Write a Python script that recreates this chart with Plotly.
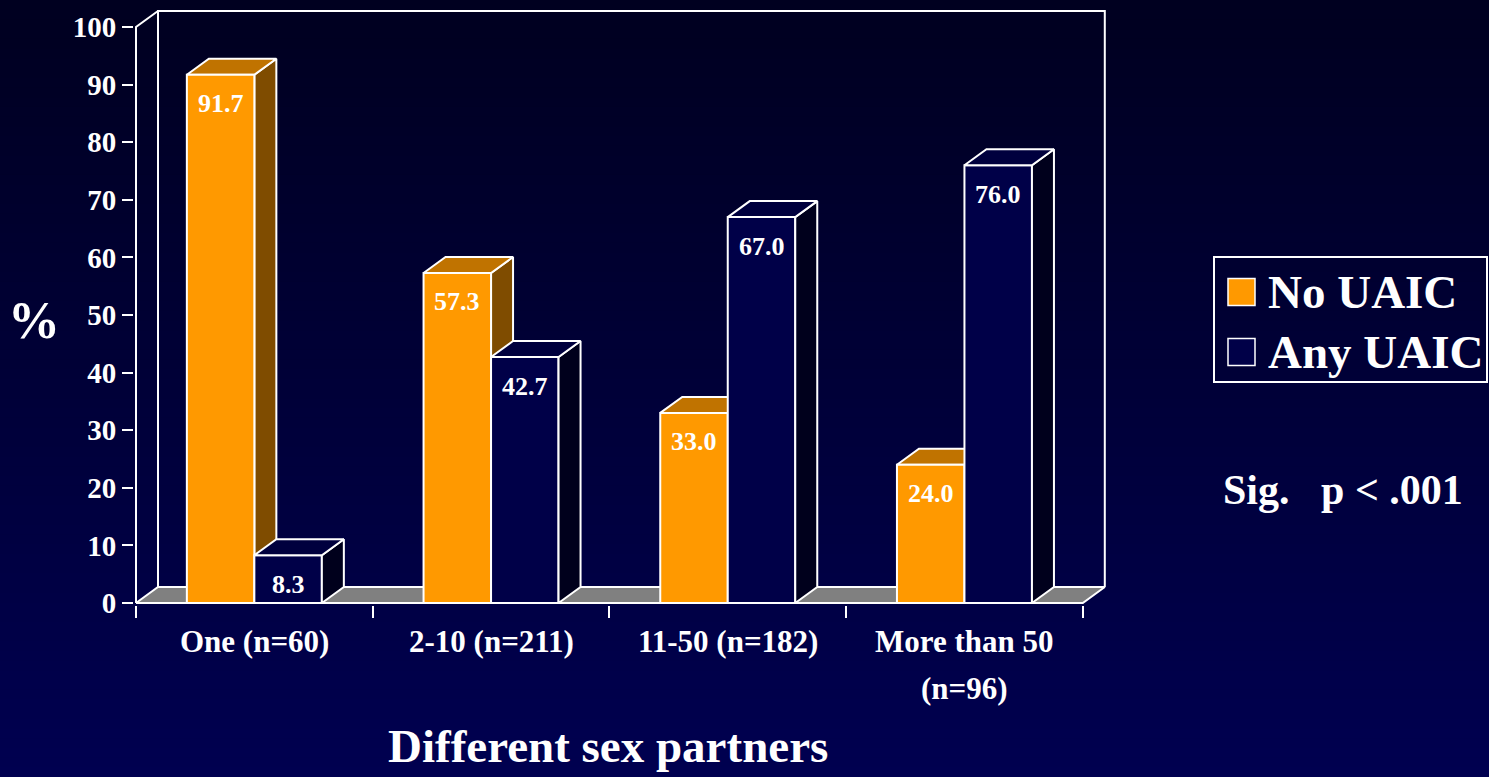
import plotly.graph_objects as go

# ---------------- data ----------------
categories = ["One (n=60)", "2-10 (n=211)", "11-50 (n=182)", "More than 50<br>(n=96)"]
series_names = ["No UAIC", "Any UAIC"]
no_uaic = [91.7, 57.3, 33.0, 24.0]
any_uaic = [8.3, 42.7, 67.0, 76.0]
y_ticks = [0, 10, 20, 30, 40, 50, 60, 70, 80, 90, 100]
x_title = "Different sex partners"
y_title = "%"
note_text = "Sig.\u00a0\u00a0\u00a0p < .001"

# ---------------- style / geometry ----------------
W, H = 1489, 777
FONT = "Liberation Serif"
ORANGE = "#FF9900"
ORANGE_TOP = "#C07300"
ORANGE_SIDE = "#7F4C00"
NAVY = "#000048"
NAVY_TOP = "#00003E"
NAVY_SIDE = "#00001C"
FLOOR = "#808080"

X0_PX, UX = 136.0, 236.7     # pixel of x=-0.5, pixels per category
Y0_PX, UY = 603.0, 5.76      # pixel of y=0, pixels per percent
DX, DY = 22.0 / UX, 16.0 / UY  # 3-D depth in data units
BAR_W = 67.5 / UX

PL, PR, PT, PB = 134, 1108, 8, 605
xr = [(PL - X0_PX) / UX - 0.5, (PR - X0_PX) / UX - 0.5]
yr = [(Y0_PX - PB) / UY, (Y0_PX - PT) / UY]


def pxx(px):
    return (px - PL) / (PR - PL)


def pxy(py):
    return (PB - py) / (PB - PT)


xs = list(range(len(categories)))
x_left, x_right = -0.5, len(categories) - 0.5
y_top = max(y_ticks)

fig = go.Figure()

# ---------- background gradient ----------
shapes = []
n_bands = 80
for i in range(n_bands):
    t = i / (n_bands - 1)
    b = int(round(32 + (80 - 32) * t))
    shapes.append(dict(type="rect", xref="paper", yref="paper", layer="below",
                       x0=pxx(0), x1=pxx(W),
                       y0=pxy(H * i / n_bands), y1=pxy(H * (i + 1) / n_bands + 1),
                       fillcolor=f"rgb(0,0,{b})", line=dict(width=0)))

# ---------- floor ----------
fig.add_trace(go.Scatter(
    x=[x_left, x_right, x_right + DX, x_left + DX, x_left],
    y=[0, 0, DY, DY, 0],
    fill="toself", fillcolor=FLOOR, mode="lines",
    line=dict(color="white", width=2), hoverinfo="skip", showlegend=False))

# ---------- back wall ----------
fig.add_trace(go.Scatter(
    x=[x_left + DX, x_left + DX, x_right + DX, x_right + DX],
    y=[DY, y_top + DY, y_top + DY, DY],
    mode="lines", line=dict(color="white", width=2), hoverinfo="skip", showlegend=False))

# ---------- front y axis line ----------
fig.add_trace(go.Scatter(
    x=[x_left, x_left, x_left + DX],
    y=[0, y_top, y_top + DY],
    mode="lines", line=dict(color="white", width=2), hoverinfo="skip", showlegend=False))


def faces(values, offset):
    sx, sy, tx, ty = [], [], [], []
    for x, v in zip(xs, values):
        a = x + offset
        b = a + BAR_W
        sx += [b, b + DX, b + DX, b, b, None]
        sy += [0, DY, v + DY, v, 0, None]
        tx += [a, b, b + DX, a + DX, a, None]
        ty += [v, v, v + DY, v + DY, v, None]
    return sx, sy, tx, ty


# orange side + top (behind the navy fronts)
sx, sy, tx, ty = faces(no_uaic, -BAR_W)
fig.add_trace(go.Scatter(x=sx, y=sy, fill="toself", fillcolor=ORANGE_SIDE, mode="lines",
                         line=dict(color="white", width=2), hoverinfo="skip", showlegend=False))
fig.add_trace(go.Scatter(x=tx, y=ty, fill="toself", fillcolor=ORANGE_TOP, mode="lines",
                         line=dict(color="white", width=2), hoverinfo="skip", showlegend=False))

# front faces (bars) on the overlaid subplot
fig.add_trace(go.Bar(x=xs, y=no_uaic, width=BAR_W, offset=-BAR_W, name=series_names[0],
                     marker=dict(color=ORANGE, line=dict(color="white", width=2)),
                     xaxis="x2", yaxis="y2", showlegend=False))
fig.add_trace(go.Bar(x=xs, y=any_uaic, width=BAR_W, offset=0, name=series_names[1],
                     marker=dict(color=NAVY, line=dict(color="white", width=2)),
                     xaxis="x2", yaxis="y2", showlegend=False))

sx, sy, tx, ty = faces(any_uaic, 0)
fig.add_trace(go.Scatter(x=sx, y=sy, fill="toself", fillcolor=NAVY_SIDE, mode="lines",
                         line=dict(color="white", width=2), hoverinfo="skip", showlegend=False,
                         xaxis="x2", yaxis="y2"))
fig.add_trace(go.Scatter(x=tx, y=ty, fill="toself", fillcolor=NAVY_TOP, mode="lines",
                         line=dict(color="white", width=2), hoverinfo="skip", showlegend=False,
                         xaxis="x2", yaxis="y2"))

# ---------- annotations ----------
ann = []
lab_font = dict(family=FONT, size=26, color="white", weight="bold")
for x, v in zip(xs, no_uaic):
    ann.append(dict(x=x - BAR_W / 2, y=v, xref="x", yref="y", text=f"{v:.1f}",
                    showarrow=False, yshift=-29, font=lab_font))
for x, v in zip(xs, any_uaic):
    ann.append(dict(x=x + BAR_W / 2, y=v, xref="x", yref="y", text=f"{v:.1f}",
                    showarrow=False, yshift=-29, font=lab_font))

cat_font = dict(family=FONT, size=31, color="white", weight="bold")
for x, c in zip(xs, categories):
    for j, line in enumerate(c.split("<br>")):
        ann.append(dict(x=x, y=0, xref="x", yref="y", text=line, showarrow=False,
                        yanchor="middle", yshift=-38 - 47 * j, font=cat_font))

ann.append(dict(x=pxx(608), y=pxy(746), xref="paper", yref="paper", text=x_title,
                showarrow=False, xanchor="center", yanchor="middle",
                font=dict(family=FONT, size=47, color="white", weight="bold")))
ann.append(dict(x=pxx(34), y=pxy(320), xref="paper", yref="paper", text=y_title,
                showarrow=False, xanchor="center", yanchor="middle",
                font=dict(family=FONT, size=52, color="white", weight="bold")))
ann.append(dict(x=pxx(1221), y=pxy(490), xref="paper", yref="paper", text=note_text,
                showarrow=False, xanchor="left", yanchor="middle",
                font=dict(family=FONT, size=42, color="white", weight="bold")))

# ---------- manual legend ----------
shapes.append(dict(type="rect", xref="paper", yref="paper",
                   x0=pxx(1214), x1=pxx(1487), y0=pxy(382), y1=pxy(257),
                   line=dict(color="white", width=2), fillcolor="rgba(0,0,0,0)"))
leg_colors = [ORANGE, NAVY]
leg_rows = [292, 352]
for name, col, ry in zip(series_names, leg_colors, leg_rows):
    shapes.append(dict(type="rect", xref="paper", yref="paper",
                       x0=pxx(1228), x1=pxx(1255), y0=pxy(ry + 13.5), y1=pxy(ry - 13.5),
                       line=dict(color="white", width=1.5), fillcolor=col))
    ann.append(dict(x=pxx(1266), y=pxy(ry), xref="paper", yref="paper", text=name,
                    showarrow=False, xanchor="left", yanchor="middle",
                    font=dict(family=FONT, size=47, color="white", weight="bold")))

fig.update_layout(
    width=W, height=H,
    margin=dict(l=PL, r=W - PR, t=PT, b=H - PB, pad=0),
    paper_bgcolor="rgb(0,0,56)",
    plot_bgcolor="rgba(0,0,0,0)",
    barmode="overlay",
    showlegend=False,
    font=dict(family=FONT, color="white", weight="bold"),
    shapes=shapes,
    annotations=ann,
    xaxis=dict(range=xr, showgrid=False, zeroline=False, showline=False,
               tickmode="array", tickvals=[x - 0.5 for x in xs] + [x_right],
               ticktext=[""] * (len(xs) + 1),
               ticks="outside", ticklen=12, tickwidth=2, tickcolor="white",
               fixedrange=True),
    yaxis=dict(range=yr, showgrid=False, zeroline=False, showline=False,
               tickmode="array", tickvals=y_ticks, ticktext=[str(t) for t in y_ticks],
               ticks="outside", ticklen=11, tickwidth=2, tickcolor="white",
               tickfont=dict(family=FONT, size=29, color="white", weight="bold"),
               fixedrange=True),
    xaxis2=dict(range=xr, overlaying="x", visible=False, fixedrange=True),
    yaxis2=dict(range=yr, overlaying="y", visible=False, fixedrange=True),
)

fig.write_html("out.html", config={"displayModeBar": False},
               post_script="document.body.style.margin='0';document.body.style.overflow='hidden';")
